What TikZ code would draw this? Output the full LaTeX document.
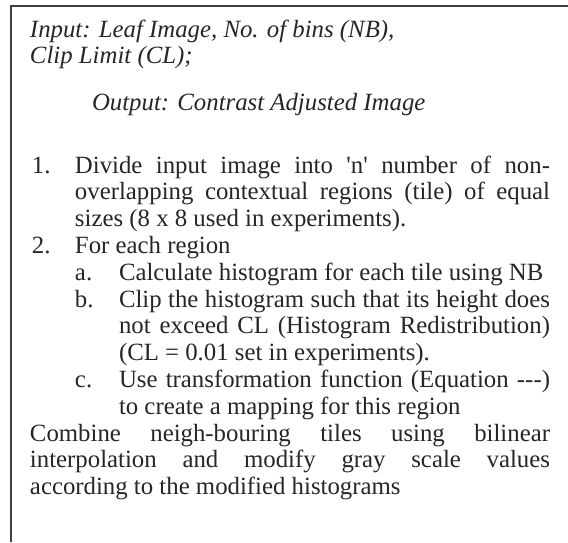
\documentclass[tikz,border=0pt]{standalone}
\usepackage{fontspec}
\setmainfont{Liberation Serif}
\usetikzlibrary{positioning}

\tikzset{
  every node/.style={inner sep=0pt, outer sep=0pt, anchor=base west, text=black!85},
  num/.style={font=\fontsize{12.4}{13.4}\selectfont},
  para/.style={num, align=justify,
    execute at begin node={\tolerance=9999\hbadness=10000\exhyphenpenalty=10000}},
  head/.style={font=\fontsize{12.4}{13.4}\selectfont\itshape},
  frame/.style={draw=black!75, line width=0.9pt},
}

\begin{document}
\begin{tikzpicture}[x=0.5pt, y=-0.5pt]
  \fill[white] (0,0) rectangle (568,542);
  \useasboundingbox (0,0) rectangle (568,542);

  % box edges
  \draw[frame] (568,6) -- (11,6) -- (11,542);

  % header
  \node[head] (input) at (30,37) {Input: Leaf Image, No. of bins (NB),};
  \node[head] (clip) at (30,63) {Clip Limit (CL);};
  \node[head] (output) at (92,110) {Output: Contrast Adjusted Image};

  % numbered steps
  \node[num] (lbl1) at (32,173) {1.};
  \node[para, text width=237.5pt] (step1) at (75,173)
    {Divide input image into \textquotesingle n\textquotesingle{} number of non-\linebreak
     overlapping contextual regions (tile) of equal\linebreak
     sizes (8 x 8 used in experiments).};

  \node[num] (lbl2) at (32,253.4) {2.};
  \node[num] (step2) at (75,253.4) {For each region};

  % sub steps
  \node[num] (lbla) at (75,280.2) {a.};
  \node[para, text width=215.5pt] (stepa) at (119,280.2)
    {Calculate histogram for each tile using NB};

  \node[num] (lblb) at (75,307) {b.};
  \node[para, text width=215.5pt] (stepb) at (119,307)
    {Clip the histogram such that its height does\linebreak
     not exceed CL (Histogram Redistribution)\linebreak
     (CL = 0.01 set in experiments).};

  \node[num] (lblc) at (75,387.4) {c.};
  \node[para, text width=215.5pt] (stepc) at (119,387.4)
    {Use transformation function (Equation -{}-{}-)\linebreak
     to create a mapping for this region};

  % last step
  \node[para, text width=260pt] (combine) at (30,441)
    {Combine neigh-bouring tiles using bilinear\linebreak
     interpolation and modify gray scale values\linebreak
     according to the modified histograms};
\end{tikzpicture}
\end{document}
